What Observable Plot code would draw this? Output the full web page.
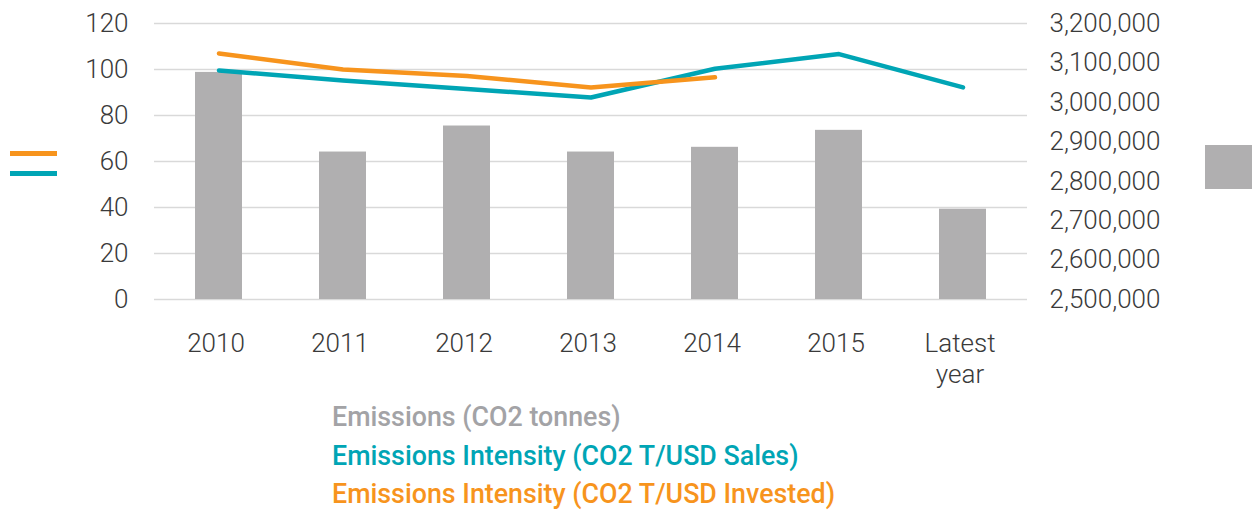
<!DOCTYPE html>
<html><head><meta charset="utf-8">
<script src="https://cdn.jsdelivr.net/npm/d3@7"></script>
<script src="https://cdn.jsdelivr.net/npm/@observablehq/plot@0.6"></script>
<style>
html,body{margin:0;padding:0;background:#fff;}
#wrap{position:relative;width:1256px;height:511px;overflow:hidden;background:#fff;}
.sw{position:absolute;}
#legend{position:absolute;left:332px;top:398px;font-family:Roboto,sans-serif;font-weight:500;font-size:26.8px;line-height:38.5px;white-space:nowrap;}
</style></head><body><div id="wrap"></div>
<script>
// Categories
const years = ["2010", "2011", "2012", "2013", "2014", "2015", "Latest year"];
// Bars: Emissions (CO2 tonnes), right axis
const emissions = [3076000, 2874000, 2940000, 2874000, 2886000, 2929000, 2729000];
// Lines: left axis
const intensitySales = [99.6, 95.2, 91.5, 87.8, 100.3, 106.7, 92.2];
const intensityInvested = [107.0, 100.0, 97.2, 92.2, 96.6, null, null];
// Ticks
const leftTicks = [0, 20, 40, 60, 80, 100, 120];
const rightTicks = [2500000, 2600000, 2700000, 2800000, 2900000, 3000000, 3100000, 3200000];
// Series labels & colours
const seriesNames = ["Emissions (CO2 tonnes)", "Emissions Intensity (CO2 T/USD Sales)", "Emissions Intensity (CO2 T/USD Invested)"];
const seriesColors = ["#b0afb0", "#00a5b5", "#f7941d"];
const legendTextColors = ["#a3a3a6", "#00a5b5", "#f7941d"];

// map right-axis values onto the left-axis scale (2.5M -> 0, 3.2M -> 120)
const rMin = 2500000, rMax = 3200000, lMax = 120;
const toLeft = v => (v - rMin) / (rMax - rMin) * lMax;
const fromLeft = v => rMin + v / lMax * (rMax - rMin);

const barData = years.map((y, i) => ({year: y, value: emissions[i]}));
const salesData = years.map((y, i) => ({year: y, value: intensitySales[i]}));
const investedData = years.map((y, i) => ({year: y, value: intensityInvested[i]})).filter(d => d.value != null);

const chart = Plot.plot({
  width: 1256,
  height: 395,
  marginLeft: 154,
  marginRight: 229,
  marginTop: 23,
  marginBottom: 96,
  style: {fontFamily: "Roboto, sans-serif", fontSize: "26px", fontWeight: 300, color: "#3a3a3a", background: "transparent", overflow: "visible"},
  x: {type: "band", domain: years, paddingInner: 0.62, paddingOuter: 0.33},
  y: {domain: [0, 120]},
  marks: [
    Plot.gridY(leftTicks, {stroke: "#d9d9d9", strokeOpacity: 1, strokeWidth: 1.5}),
    Plot.barY(barData, {x: "year", y1: 0, y2: d => toLeft(d.value), fill: seriesColors[0]}),
    Plot.line(salesData, {x: "year", y: "value", stroke: seriesColors[1], strokeWidth: 4.5}),
    Plot.line(investedData, {x: "year", y: "value", stroke: seriesColors[2], strokeWidth: 4.5}),
    Plot.axisY({ticks: leftTicks, tickSize: 0, tickPadding: 26, label: null}),
    Plot.axisY({anchor: "right", ticks: rightTicks.map(toLeft), tickSize: 0, tickPadding: 22, label: null,
      tickFormat: d => d3.format(",")(Math.round(fromLeft(d) / 1000) * 1000)}),
    Plot.axisX({tickSize: 0, tickPadding: 30, label: null, lineHeight: 1.2, dx: -3,
      tickFormat: d => d === "Latest year" ? "Latest\nyear" : d})
  ]
});
const wrap = document.getElementById("wrap");
wrap.appendChild(chart);

// side swatches (legend keys)
function swatch(left, top, w, h, color) {
  const s = document.createElement("div");
  s.className = "sw";
  Object.assign(s.style, {left: left + "px", top: top + "px", width: w + "px", height: h + "px", background: color});
  wrap.appendChild(s);
}
swatch(10, 151, 47, 5, seriesColors[2]);
swatch(10, 171, 47, 5, seriesColors[1]);
swatch(1205, 145, 47, 44, seriesColors[0]);

// legend text below
const legend = document.createElement("div");
legend.id = "legend";
seriesNames.forEach((n, i) => {
  const d = document.createElement("div");
  d.textContent = n;
  d.style.color = legendTextColors[i];
  legend.appendChild(d);
});
wrap.appendChild(legend);
</script>
</body></html>
